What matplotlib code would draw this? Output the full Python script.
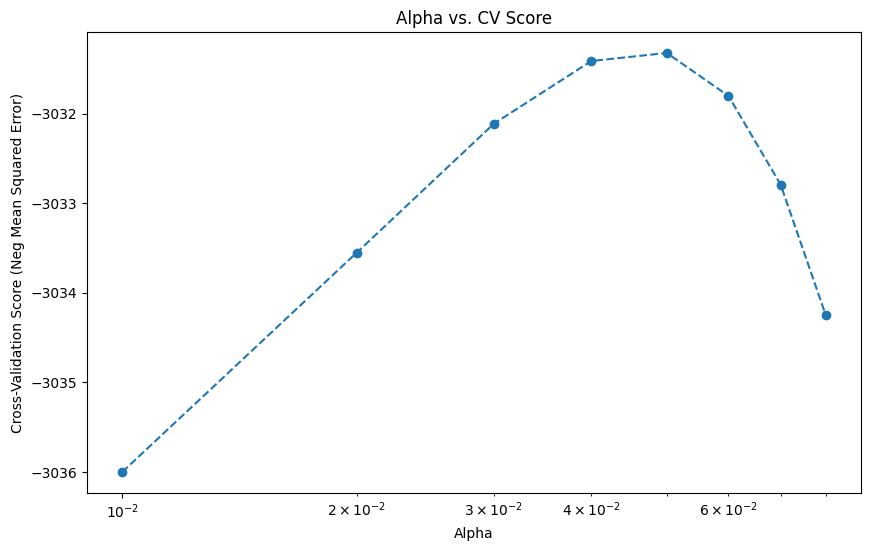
import matplotlib
matplotlib.use("Agg")
import matplotlib.pyplot as plt

alphas = [0.01, 0.02, 0.03, 0.04, 0.05, 0.06, 0.07, 0.08]
scores = [-3036.0, -3033.55, -3032.11, -3031.41, -3031.32, -3031.80, -3032.79, -3034.25]

fig = plt.figure(figsize=(8.71, 5.52), dpi=100)
ax = fig.add_axes([87/871, 1 - 493/552, (861-87)/871, (493-32)/552])
ax.plot(alphas, scores, marker='o', linestyle='--')
ax.set_xscale('log')
ax.set_xlabel('Alpha')
ax.set_ylabel('Cross-Validation Score (Neg Mean Squared Error)')
ax.set_title('Alpha vs. CV Score')
fig.savefig('out.png', dpi=100)
